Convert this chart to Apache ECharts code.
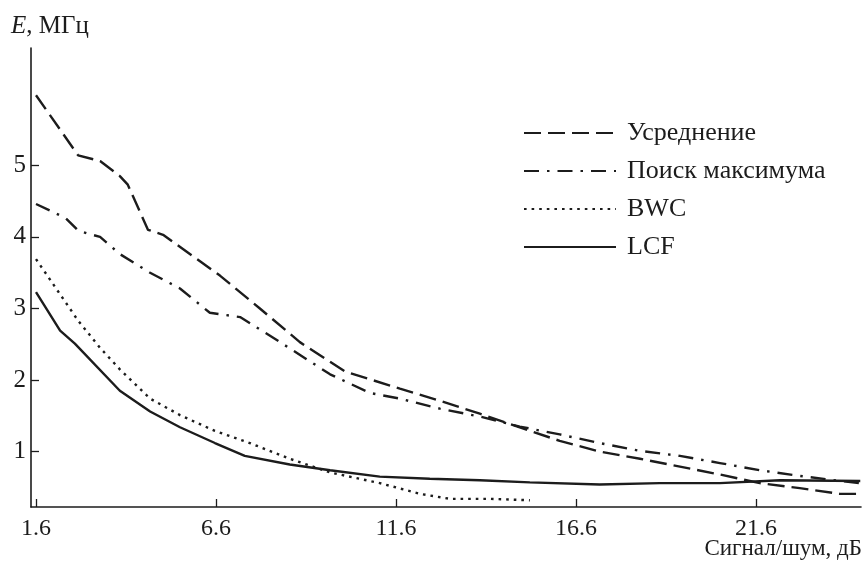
<!DOCTYPE html>
<html><head><meta charset="utf-8">
<script src="https://cdn.jsdelivr.net/npm/echarts@6/dist/echarts.min.js"></script>
<style>html,body{margin:0;padding:0;background:#fff}#c{width:864px;height:575px}</style>
</head><body><div id="c"></div>
<script>
const seriesNames = ['Усреднение', 'Поиск максимума', 'BWC', 'LCF'];
const xTicks = [1.6, 6.6, 11.6, 16.6, 21.6];
const yTicks = [1, 2, 3, 4, 5];

const avgX = [1.6, 2.77, 3.38, 3.93, 4.15, 4.71, 5.13, 6.71, 7.82, 8.93, 10.18, 11.71, 12.82, 13.93, 15.04, 16.15, 17.26, 18.38, 19.49, 20.6, 21.71, 22.82, 23.93, 24.5];
const avgY = [5.98, 5.14, 5.06, 4.85, 4.73, 4.10, 4.03, 3.46, 3.0, 2.53, 2.12, 1.88, 1.71, 1.53, 1.34, 1.15, 1.0, 0.9, 0.79, 0.68, 0.56, 0.49, 0.41, 0.41];

const maxX = [1.6, 2.07, 2.43, 2.77, 3.02, 3.38, 3.93, 4.77, 5.6, 6.43, 7.27, 8.38, 9.77, 10.88, 11.71, 12.82, 13.93, 15.04, 16.15, 17.26, 18.38, 19.49, 20.6, 21.71, 22.82, 23.93, 24.5];
const maxY = [4.46, 4.35, 4.26, 4.09, 4.05, 4.0, 3.76, 3.5, 3.28, 2.94, 2.88, 2.53, 2.08, 1.82, 1.74, 1.6, 1.49, 1.35, 1.24, 1.12, 1.01, 0.94, 0.84, 0.74, 0.66, 0.59, 0.56];

const bwcX = [1.6, 2.77, 3.38, 3.93, 4.77, 5.6, 6.57, 7.54, 8.65, 9.76, 11.15, 12.27, 13.1, 14.21, 15.32];
const bwcY = [3.69, 2.83, 2.45, 2.15, 1.74, 1.51, 1.29, 1.12, 0.9, 0.71, 0.56, 0.41, 0.34, 0.34, 0.32];

const lcfX = [1.6, 2.27, 2.68, 3.93, 4.77, 5.6, 6.57, 7.4, 8.65, 9.77, 11.15, 12.54, 13.93, 15.32, 17.26, 18.93, 20.6, 22.27, 24.5];
const lcfY = [3.23, 2.69, 2.51, 1.85, 1.56, 1.34, 1.12, 0.94, 0.82, 0.74, 0.65, 0.62, 0.6, 0.57, 0.54, 0.56, 0.56, 0.6, 0.59];

function pairs(xs, ys) { return xs.map((x, i) => [x, ys[i]]); }

const ink = '#1c1c1c';
const font = 'Liberation Serif';
const styles = [
  { type: [17, 7], width: 2.4 },
  { type: [15, 8, 2.5, 8], width: 2.4 },
  { type: [2.6, 5], width: 2.4 },
  { type: 'solid', width: 2.4 }
];
const dataSets = [pairs(avgX, avgY), pairs(maxX, maxY), pairs(bwcX, bwcY), pairs(lcfX, lcfY)];

const chart = echarts.init(document.getElementById('c'), null, { renderer: 'canvas' });
chart.setOption({
  animation: false,
  backgroundColor: '#fff',
  grid: { left: 31, right: 3, top: 48, bottom: 68 },
  xAxis: {
    type: 'value', min: 1.461, max: 24.52,
    axisLine: { show: true, lineStyle: { color: ink, width: 1.6 } },
    axisTick: { show: true, inside: true, length: 8, customValues: xTicks, lineStyle: { color: ink, width: 1.3 } },
    axisLabel: { customValues: xTicks, formatter: v => v.toFixed(1), color: ink, fontFamily: font, fontSize: 24, margin: 10 },
    splitLine: { show: false }
  },
  yAxis: {
    type: 'value', min: 0.226, max: 6.64,
    axisLine: { show: true, lineStyle: { color: ink, width: 1.6 } },
    axisTick: { show: true, inside: true, length: 8, customValues: yTicks, lineStyle: { color: ink, width: 1.3 } },
    axisLabel: { customValues: yTicks, formatter: v => String(v), color: ink, fontFamily: font, fontSize: 25, margin: 5 },
    splitLine: { show: false }
  },
  legend: {
    orient: 'vertical', left: 518, top: 115,
    itemWidth: 92, itemHeight: 14, itemGap: 12,
    data: seriesNames,
    itemStyle: { opacity: 0, color: 'rgba(0,0,0,0)', borderWidth: 0 },
    textStyle: { color: ink, fontFamily: font, fontSize: 26, lineHeight: 26, padding: [0, 0, 0, 6] }
  },
  graphic: [
    { type: 'text', left: 11, top: 14, style: { text: '{i|E}, МГц', rich: { i: { fontStyle: 'italic', fontFamily: font, fontSize: 25, fill: ink } }, fontFamily: font, fontSize: 25, fill: ink } },
    { type: 'text', right: 2, top: 537, style: { text: 'Сигнал/шум, дБ', fontFamily: font, fontSize: 23, fill: ink } }
  ],
  series: dataSets.map((d, i) => ({
    name: seriesNames[i], type: 'line', data: d,
    symbol: 'none', showSymbol: false, smooth: false,
    lineStyle: { color: ink, width: styles[i].width, type: styles[i].type, cap: 'butt' },
    itemStyle: { color: ink }
  }))
});
</script></body></html>
